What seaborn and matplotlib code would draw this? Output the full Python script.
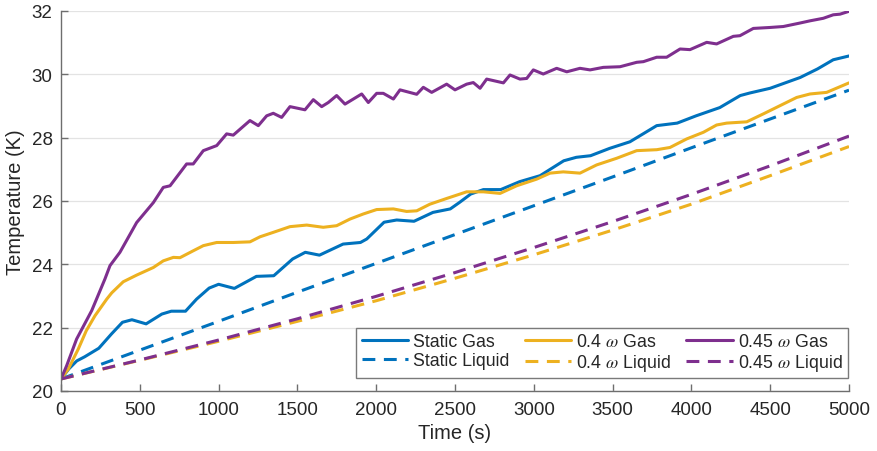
import matplotlib
matplotlib.use("Agg")
import matplotlib.pyplot as plt
import seaborn as sns
import pandas as pd

# ---- data ----
static_gas_t = [0, 50, 100, 150, 240, 320, 390, 450, 540, 640, 700, 790, 860, 940, 1000,
                1100, 1240, 1350, 1470, 1550, 1640, 1790, 1900, 1940, 2050, 2130, 2240,
                2360, 2470, 2530, 2600, 2680, 2790, 2910, 3040, 3190, 3270, 3360, 3480,
                3610, 3780, 3910, 4030, 4180, 4310, 4370, 4500, 4690, 4800, 4900, 5000]
static_gas_T = [20.38, 20.7, 20.95, 21.08, 21.35, 21.8, 22.17, 22.25, 22.12, 22.43, 22.52,
                22.52, 22.9, 23.25, 23.37, 23.24, 23.62, 23.64, 24.17, 24.38, 24.29, 24.64,
                24.69, 24.8, 25.33, 25.4, 25.36, 25.64, 25.75, 25.96, 26.22, 26.36, 26.36,
                26.61, 26.8, 27.27, 27.38, 27.43, 27.66, 27.87, 28.38, 28.46, 28.69, 28.95,
                29.33, 29.41, 29.56, 29.9, 30.17, 30.46, 30.58]

w40_gas_t = [0, 46, 110, 160, 216, 290, 322, 395, 480, 586, 649, 713, 755, 840, 903, 988,
             1094, 1199, 1263, 1347, 1453, 1559, 1664, 1749, 1834, 1918, 2003, 2109, 2193,
             2257, 2341, 2447, 2532, 2574, 2680, 2786, 2891, 3018, 3103, 3187, 3293, 3399,
             3526, 3653, 3780, 3864, 3970, 4076, 4160, 4224, 4351, 4456, 4562, 4668, 4753,
             4858, 5000]
w40_gas_T = [20.38, 20.69, 21.33, 21.9, 22.38, 22.9, 23.1, 23.45, 23.66, 23.9, 24.11, 24.22,
             24.21, 24.43, 24.59, 24.69, 24.69, 24.71, 24.87, 25.01, 25.19, 25.24, 25.17,
             25.22, 25.43, 25.59, 25.73, 25.75, 25.67, 25.69, 25.9, 26.08, 26.22, 26.29,
             26.29, 26.24, 26.48, 26.69, 26.88, 26.92, 26.88, 27.14, 27.35, 27.59, 27.62,
             27.69, 27.96, 28.17, 28.40, 28.46, 28.50, 28.75, 29.01, 29.27, 29.38, 29.43,
             29.73]

w45_gas_t = [0, 36, 99, 195, 279, 311, 374, 480, 586, 649, 692, 797, 839, 903, 988, 1051,
             1093, 1199, 1252, 1305, 1347, 1400, 1453, 1548, 1601, 1654, 1696, 1749, 1802,
             1908, 1950, 2003, 2045, 2109, 2151, 2257, 2299, 2352, 2447, 2500, 2574, 2616,
             2659, 2701, 2807, 2849, 2912, 2955, 2997, 3060, 3145, 3209, 3293, 3357, 3441,
             3547, 3653, 3695, 3780, 3843, 3928, 3991, 4097, 4160, 4266, 4308, 4393, 4499,
             4583, 4689, 4753, 4837, 4900, 4943, 5000]
w45_gas_T = [20.38, 20.8, 21.64, 22.54, 23.54, 23.96, 24.38, 25.32, 25.95, 26.43, 26.48,
             27.17, 27.17, 27.59, 27.75, 28.12, 28.08, 28.54, 28.38, 28.69, 28.77, 28.64,
             28.98, 28.88, 29.2, 28.98, 29.11, 29.33, 29.06, 29.38, 29.11, 29.40, 29.40,
             29.22, 29.51, 29.37, 29.59, 29.43, 29.69, 29.51, 29.69, 29.74, 29.56, 29.85,
             29.73, 29.98, 29.85, 29.87, 30.14, 30.01, 30.19, 30.08, 30.19, 30.14, 30.22,
             30.24, 30.38, 30.40, 30.54, 30.54, 30.80, 30.78, 31.01, 30.96, 31.20, 31.22,
             31.45, 31.48, 31.51, 31.62, 31.69, 31.77, 31.88, 31.90, 31.99]

liquid_t = [0, 500, 1000, 1500, 2000, 2500, 3000, 3500, 4000, 4500, 5000]
static_liq_T = [20.38, 21.29, 22.2, 23.12, 24.03, 24.94, 25.85, 26.76, 27.68, 28.59, 29.5]
w40_liq_T = [20.38, 20.97, 21.57, 22.2, 22.85, 23.56, 24.3, 25.08, 25.9, 26.8, 27.72]
w45_liq_T = [20.38, 20.98, 21.61, 22.28, 22.99, 23.74, 24.53, 25.35, 26.21, 27.11, 28.05]

labels = ["Static Gas", "Static Liquid", r"0.4 $\omega$ Gas", r"0.4 $\omega$ Liquid",
          r"0.45 $\omega$ Gas", r"0.45 $\omega$ Liquid"]

x_ticks = [0, 500, 1000, 1500, 2000, 2500, 3000, 3500, 4000, 4500, 5000]
y_ticks = [20, 22, 24, 26, 28, 30, 32]

# ---- styling ----
sns.set_style("white")
plt.rcParams["font.family"] = ["Liberation Sans", "DejaVu Sans"]
plt.rcParams["mathtext.fontset"] = "stix"

blue, yellow, purple = "#0072BD", "#EDB120", "#7E2F8E"

fig = plt.figure(figsize=(8.78, 4.52), dpi=100)
ax = fig.add_axes([61 / 878, 1 - 392 / 452, 788 / 878, 380 / 452])

series = [
    (static_gas_t, static_gas_T, blue, "-"),
    (liquid_t, static_liq_T, blue, "--"),
    (w40_gas_t, w40_gas_T, yellow, "-"),
    (liquid_t, w40_liq_T, yellow, "--"),
    (w45_gas_t, w45_gas_T, purple, "-"),
    (liquid_t, w45_liq_T, purple, "--"),
]

handles = []
for (t, T, c, ls), lab in zip(series, labels):
    df = pd.DataFrame({"t": t, "T": T})
    sns.lineplot(data=df, x="t", y="T", ax=ax, color=c, linewidth=2.2,
                 label=lab, legend=False, estimator=None, sort=False)
    ln = ax.lines[-1]
    if ls == "--":
        ln.set_linestyle((0, (4.2, 2.8)))
    handles.append(ln)

ax.set_xlim(0, 5000)
ax.set_ylim(20, 32)
ax.set_xticks(x_ticks)
ax.set_yticks(y_ticks)
ax.set_xticklabels([str(v) for v in x_ticks])
ax.set_yticklabels([str(v) for v in y_ticks])

ax.yaxis.grid(True, color="#e3e3e3", linewidth=0.9)
ax.xaxis.grid(False)
ax.set_axisbelow(True)

for s in ["top", "right"]:
    ax.spines[s].set_visible(False)
for s in ["left", "bottom"]:
    ax.spines[s].set_color("#6e6e6e")
    ax.spines[s].set_linewidth(1.0)

ax.tick_params(axis="both", which="major", bottom=True, left=True, top=False, right=False,
               direction="in", length=5, width=1.0, color="#6e6e6e",
               labelsize=13.5, labelcolor="#262626")
ax.tick_params(axis="x", pad=7)
ax.tick_params(axis="y", pad=6)

ax.set_xlabel("Time (s)", fontsize=14.5, color="#262626", labelpad=4)
ax.set_ylabel("Temperature (K)", fontsize=14.5, color="#262626", labelpad=5)

leg = ax.legend(handles=handles, labels=labels, ncol=3, loc="lower right",
                bbox_to_anchor=(0.9987, 0.034), borderaxespad=0, fontsize=12.8,
                frameon=True, fancybox=False, edgecolor="#7a7a7a", framealpha=1,
                handlelength=2.6, handletextpad=0.3, columnspacing=0.85,
                labelspacing=0.1, borderpad=0.3)
leg.get_frame().set_linewidth(1.0)

fig.savefig("out.png", dpi=100)
